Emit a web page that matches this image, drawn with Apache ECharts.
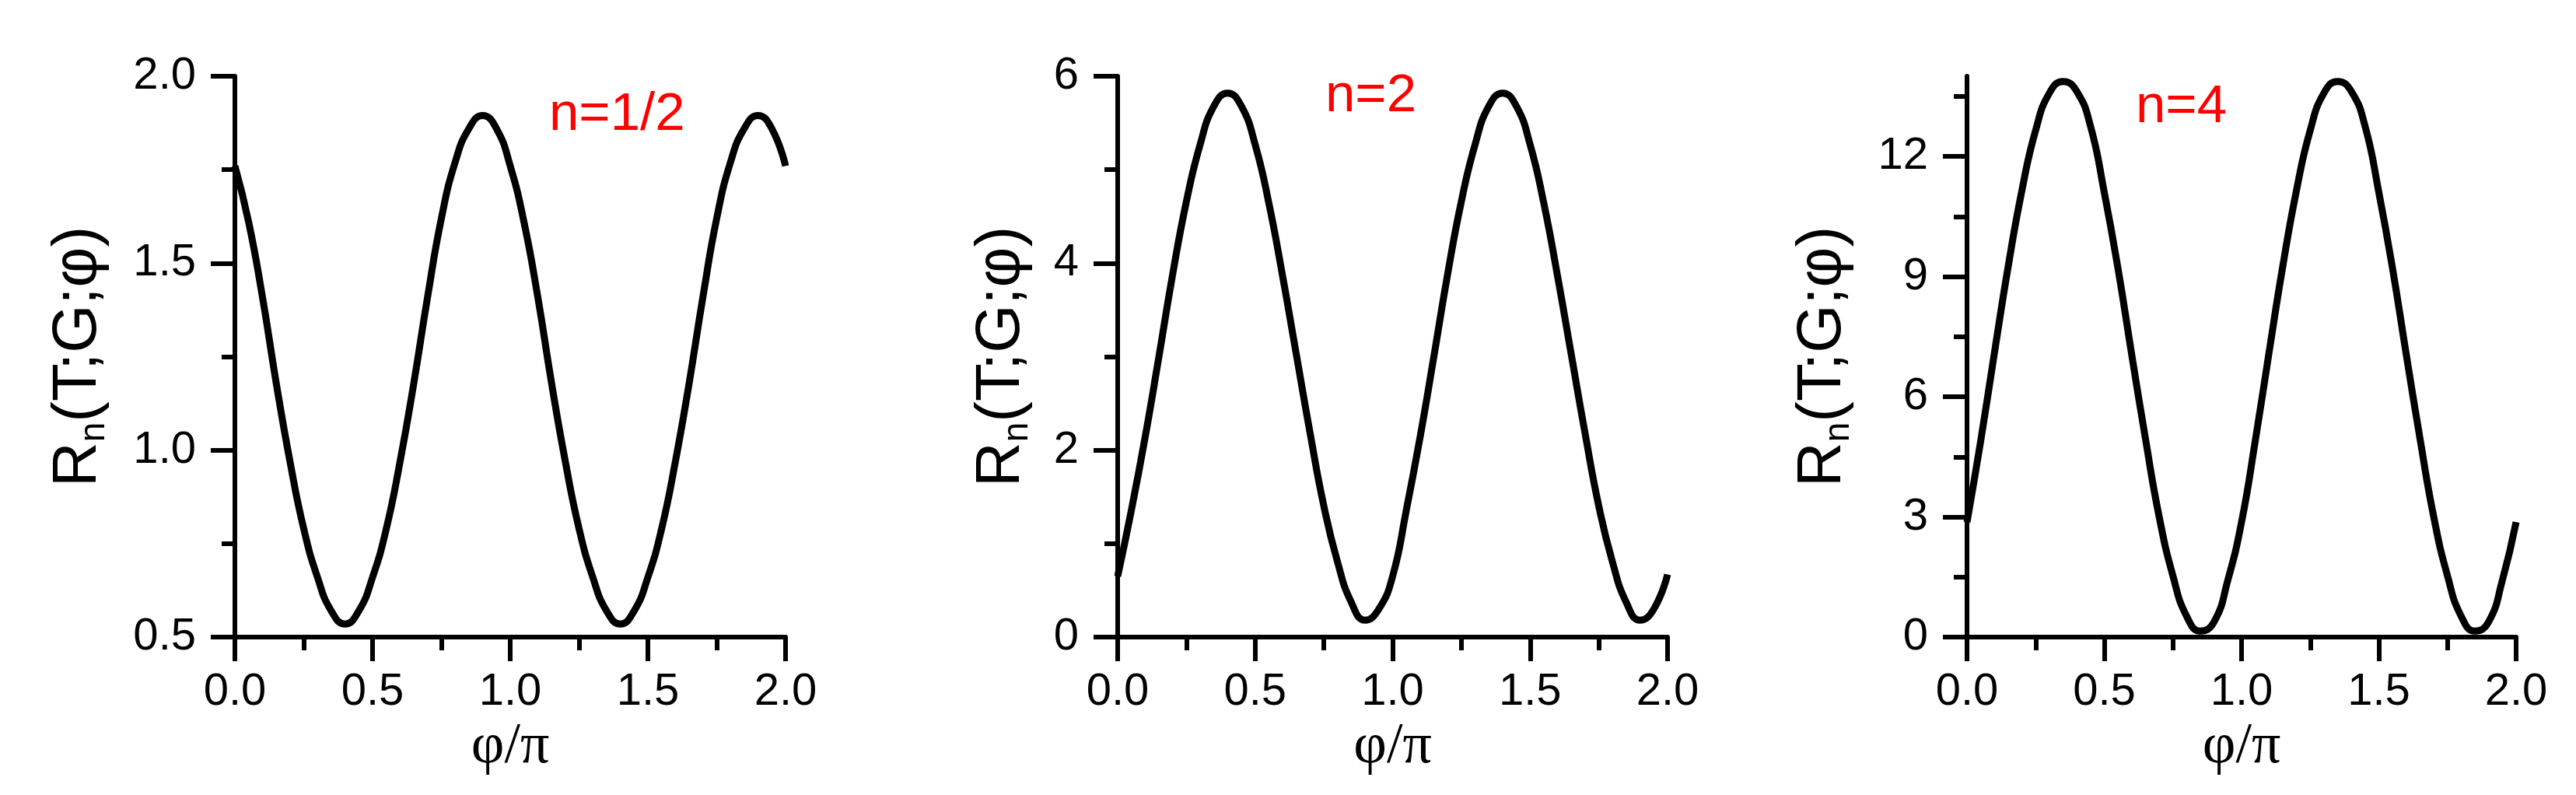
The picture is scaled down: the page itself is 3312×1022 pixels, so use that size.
<!DOCTYPE html>
<html>
<head>
<meta charset="utf-8">
<script src="https://cdn.jsdelivr.net/npm/echarts@6/dist/echarts.min.js"></script>
<style>
  html, body { margin: 0; padding: 0; background: #fff; }
  #chart { width: 3312px; height: 1022px; }
</style>
</head>
<body>
<div id="chart"></div>
<script>
// phi/pi positions
var phi = [0.00, 0.05, 0.10, 0.15, 0.20, 0.25, 0.30, 0.35, 0.40, 0.45, 0.50,
           0.55, 0.60, 0.65, 0.70, 0.75, 0.80, 0.85, 0.90, 0.95, 1.00,
           1.05, 1.10, 1.15, 1.20, 1.25, 1.30, 1.35, 1.40, 1.45, 1.50,
           1.55, 1.60, 1.65, 1.70, 1.75, 1.80, 1.85, 1.90, 1.95, 2.00];

// n=1/2
var rHalf = [1.76, 1.61, 1.41, 1.18, 0.97, 0.79, 0.66, 0.57, 0.535, 0.57, 0.66,
             0.79, 0.97, 1.18, 1.41, 1.62, 1.77, 1.86, 1.895, 1.86, 1.76,
             1.61, 1.41, 1.18, 0.97, 0.79, 0.66, 0.57, 0.535, 0.57, 0.66,
             0.79, 0.97, 1.18, 1.41, 1.62, 1.77, 1.86, 1.895, 1.86, 1.76];
// n=2
var rTwo = [0.65, 1.36, 2.14, 3.00, 3.88, 4.66, 5.27, 5.68, 5.82, 5.68, 5.27,
            4.64, 3.86, 3.02, 2.18, 1.40, 0.80, 0.37, 0.18, 0.30, 0.65,
            1.36, 2.14, 3.00, 3.88, 4.66, 5.27, 5.68, 5.82, 5.68, 5.27,
            4.64, 3.86, 3.02, 2.18, 1.40, 0.80, 0.37, 0.18, 0.30, 0.67];
// n=4
var rFour = [2.87, 4.90, 7.10, 9.25, 11.15, 12.65, 13.58, 13.87, 13.62, 12.75, 11.1,
             9.2, 7.05, 4.95, 3.00, 1.53, 0.52, 0.15, 0.38, 1.42, 2.87,
             4.90, 7.10, 9.25, 11.15, 12.65, 13.58, 13.87, 13.62, 12.75, 11.1,
             9.2, 7.05, 4.95, 3.00, 1.53, 0.52, 0.15, 0.38, 1.42, 2.87];

var yTicksFour = [0, 3, 6, 9, 12];
var yMinorFour = [1.5, 4.5, 7.5, 10.5, 13.5];
var panelLabels = ['n=1/2', 'n=2', 'n=4'];

var sans = '"Liberation Sans", Arial, sans-serif';
var serif = '"Liberation Serif", "Times New Roman", serif';

function pairs(ys) {
  var out = [];
  for (var i = 0; i < phi.length; i++) out.push([phi[i], ys[i]]);
  return out;
}

var grids = [
  {left: 302, top: 98, width: 708, height: 721},
  {left: 1437, top: 98, width: 707, height: 721},
  {left: 2529, top: 98, width: 706, height: 721}
];

var lineBlack = {color: '#000', width: 6};

function makeX(i) {
  return {
    type: 'value', gridIndex: i, min: 0, max: 2, interval: 0.5,
    axisLine: {onZero: false, lineStyle: lineBlack},
    axisTick: {length: 31, lineStyle: lineBlack},
    minorTick: {show: true, splitNumber: 2, length: 17, lineStyle: lineBlack},
    splitLine: {show: false},
    axisLabel: {
      margin: 42, fontSize: 58, color: '#000', fontFamily: sans,
      formatter: function (v) { return v.toFixed(1); }
    },
    name: 'φ/π', nameLocation: 'middle', nameGap: 96,
    nameTextStyle: {fontFamily: serif, fontSize: 74, color: '#000'}
  };
}

var yName = '{r|R}{s|n}{r|(T;G;φ)}';
function yNameStyle() {
  return {
    color: '#000',
    rich: {
      r: {fontFamily: sans, fontSize: 80, lineHeight: 86, color: '#000'},
      s: {fontFamily: sans, fontSize: 46, lineHeight: 50, verticalAlign: 'bottom', color: '#000'}
    }
  };
}

function makeY(i, min, max, interval, ticks, gap, fmt, minor) {
  var ax = {
    type: 'value', gridIndex: i, position: 'left', min: min, max: max, interval: interval,
    axisLine: {show: true, onZero: false, lineStyle: lineBlack},
    axisTick: {show: true, length: 31, lineStyle: lineBlack},
    minorTick: {show: minor, splitNumber: 2, length: 17, lineStyle: lineBlack},
    splitLine: {show: false},
    axisLabel: {margin: 50, fontSize: 58, color: '#000', fontFamily: sans, formatter: fmt},
    name: yName, nameLocation: 'middle', nameGap: gap,
    nameTextStyle: yNameStyle()
  };
  if (ticks) {
    ax.axisLabel.customValues = ticks;
    ax.axisTick.customValues = ticks;
  }
  return ax;
}

function curve(i, ys) {
  return {
    type: 'line', xAxisIndex: i, yAxisIndex: i, data: pairs(ys),
    smooth: 0.5, smoothConstraint: false, symbol: 'none',
    lineStyle: {color: '#000', width: 9, join: 'round'}
  };
}

var chart = echarts.init(document.getElementById('chart'), null, {renderer: 'canvas'});

chart.setOption({
  backgroundColor: '#fff',
  animation: false,
  grid: grids,
  xAxis: [makeX(0), makeX(1), makeX(2)],
  yAxis: [
    makeY(0, 0.5, 2, 0.5, null, 158, function (v) { return v.toFixed(1); }, true),
    makeY(1, 0, 6, 2, null, 106, function (v) { return String(v); }, true),
    makeY(2, 0, 14, 3, yTicksFour, 142, function (v) { return String(v); }, false),
    // minor ticks of the n=4 panel
    {
      type: 'value', gridIndex: 2, position: 'left', offset: 0, min: 0, max: 14, interval: 1.5,
      axisLine: {show: false},
      axisTick: {show: true, length: 17, lineStyle: lineBlack, customValues: yMinorFour},
      axisLabel: {show: false},
      splitLine: {show: false}
    }
  ],
  graphic: [
    {type: 'text', left: 706, top: 113, style: {text: panelLabels[0], fill: '#ff0000', font: '69px ' + sans}},
    {type: 'text', left: 1704, top: 89, style: {text: panelLabels[1], fill: '#ff0000', font: '69px ' + sans}},
    {type: 'text', left: 2746, top: 103, style: {text: panelLabels[2], fill: '#ff0000', font: '69px ' + sans}}
  ],
  series: [curve(0, rHalf), curve(1, rTwo), curve(2, rFour)]
});
</script>
</body>
</html>
